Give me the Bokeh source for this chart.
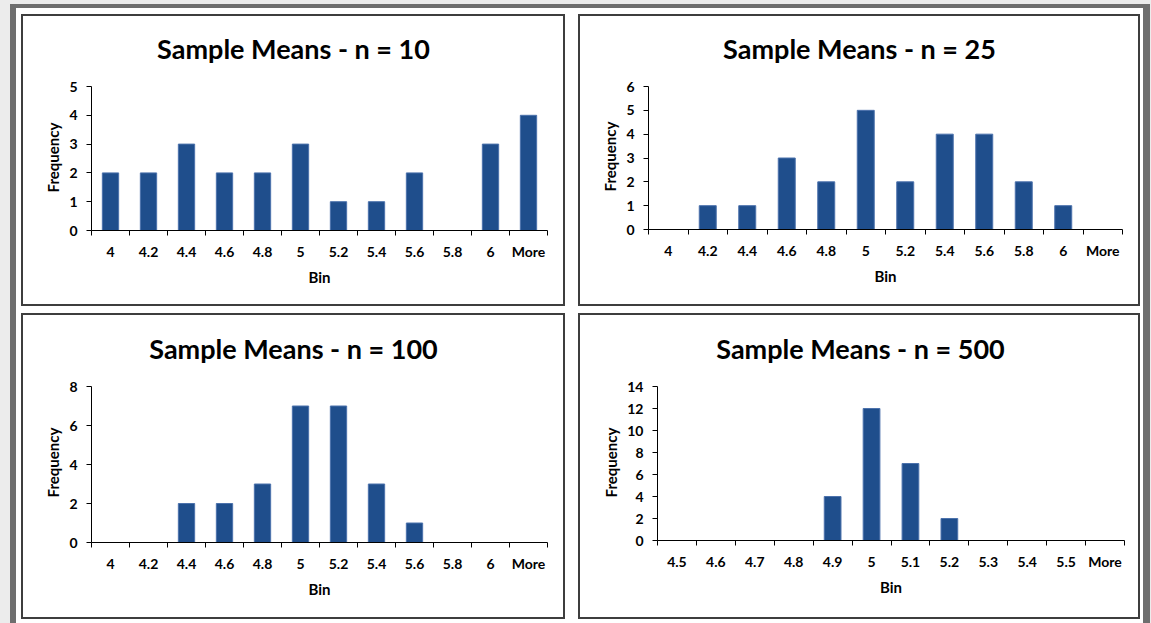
from bokeh.plotting import figure
from bokeh.models import Range1d, FixedTicker, Spacer, ColumnDataSource, Label, Title
from bokeh.layouts import row, column
from bokeh.embed import file_html
from bokeh.resources import INLINE

# ---- data ----
bins_small = ["4", "4.2", "4.4", "4.6", "4.8", "5", "5.2", "5.4", "5.6", "5.8", "6", "More"]
bins_large = ["4.5", "4.6", "4.7", "4.8", "4.9", "5", "5.1", "5.2", "5.3", "5.4", "5.5", "More"]
freq_n10 = [2, 2, 3, 2, 2, 3, 1, 1, 2, 0, 3, 4]
freq_n25 = [0, 1, 1, 3, 2, 5, 2, 4, 4, 2, 1, 0]
freq_n100 = [0, 0, 2, 2, 3, 7, 7, 3, 1, 0, 0, 0]
freq_n500 = [0, 0, 0, 0, 4, 12, 7, 2, 0, 0, 0, 0]
titles = ["Sample Means - n = 10", "Sample Means - n = 25",
          "Sample Means - n = 100", "Sample Means - n = 500"]
y_max = [5, 6, 8, 14]
y_step = [1, 1, 2, 2]
x_title = "Bin"
y_title = "Frequency"

FONT = "Lato"
BAR_FILL = "#1F4E8C"
BAR_LINE = "#4C72AC"
LIGHT = "#ececec"
BAND = "#6e6e6e"
PANEL_BORDER = "#3e3e3e"


def sp(w, h, color):
    return Spacer(width=w, height=h, styles={"background-color": color})


def make_panel(title, bins, freqs, ymax, ystep, w, h, mbl, mbr, top_gap, mbb,
               title_cx, ylab_offset):
    n = len(bins)
    centers = [i + 0.5 for i in range(n)]
    src = ColumnDataSource(dict(x=centers, top=freqs, label=bins))
    # the frame reaches the top of the canvas; the value axis itself stops at ymax
    frame_h = h - mbb
    data_h = h - top_gap - mbb
    y_end = ymax * frame_h / data_h
    p = figure(width=w, height=h, output_backend="svg", toolbar_location=None,
               x_range=Range1d(0, n), y_range=Range1d(0, y_end),
               min_border_left=mbl, min_border_right=mbr,
               min_border_top=0, min_border_bottom=mbb)
    p.vbar(x="x", top="top", bottom=0, width=0.43, source=src,
           fill_color=BAR_FILL, line_color=BAR_LINE, line_width=1)
    p.xgrid.visible = False
    p.ygrid.visible = False
    p.outline_line_color = None
    p.background_fill_color = "white"
    p.border_fill_color = "white"

    p.add_layout(Label(x=title_cx, y=data_h + 38, x_units="screen", y_units="screen",
                       text=title, text_align="center", text_baseline="middle",
                       text_font=FONT, text_font_size="27px", text_font_style="bold",
                       text_color="black"))

    xa = p.xaxis[0]
    overrides = {}
    for c, b in zip(centers, bins):
        overrides[c] = b
        overrides[str(c)] = b
    xa.ticker = FixedTicker(ticks=centers, minor_ticks=list(range(n + 1)))
    xa.major_label_overrides = overrides
    xa.major_tick_line_color = None
    xa.major_tick_out = 0
    xa.major_tick_in = 0
    xa.minor_tick_line_color = "black"
    xa.minor_tick_out = 5
    xa.minor_tick_in = 0
    xa.axis_line_color = "black"
    xa.major_label_text_font = FONT
    xa.major_label_text_font_size = "14px"
    xa.major_label_text_font_style = "bold"
    xa.major_label_text_color = "black"
    xa.major_label_standoff = 7
    xa.axis_label = x_title
    xa.axis_label_text_font = FONT
    xa.axis_label_text_font_size = "15px"
    xa.axis_label_text_font_style = "bold"
    xa.axis_label_text_color = "black"
    xa.axis_label_standoff = 5

    ya = p.yaxis[0]
    ya.bounds = (0, ymax)
    ya.ticker = FixedTicker(ticks=list(range(0, ymax + 1, ystep)))
    ya.minor_tick_line_color = None
    ya.major_tick_out = 5
    ya.major_tick_in = 0
    ya.major_tick_line_color = "black"
    ya.axis_line_color = "black"
    ya.major_label_text_font = FONT
    ya.major_label_text_font_size = "14px"
    ya.major_label_text_font_style = "bold"
    ya.major_label_text_color = "black"
    ya.major_label_standoff = 9

    # value-axis title, centred on the 0..ymax span rather than on the whole frame
    p.add_layout(Title(text=y_title, align="left", offset=ylab_offset,
                       vertical_align="middle", standoff=7,
                       text_font=FONT, text_font_size="15px", text_font_style="bold",
                       text_color="black"), "left")
    return p


def boxed(p, w, h):
    return row(
        sp(2, h, PANEL_BORDER),
        column(sp(w - 4, 2, PANEL_BORDER), p, sp(w - 4, 2, PANEL_BORDER)),
        sp(2, h, PANEL_BORDER),
    )


p1 = make_panel(titles[0], bins_small, freq_n10, y_max[0], y_step[0],
                540, 288, 68, 16, 70, 74, 202, 38)
p2 = make_panel(titles[1], bins_small, freq_n25, y_max[1], y_step[1],
                558, 288, 68, 16, 70, 75, 211, 38)
p3 = make_panel(titles[2], bins_small, freq_n100, y_max[2], y_step[2],
                540, 302, 68, 16, 71, 75, 202, 45)
p4 = make_panel(titles[3], bins_large, freq_n500, y_max[3], y_step[3],
                558, 302, 77, 14, 71, 77, 203, 43)

W = "white"
white_col = column(
    sp(1127, 4, BAND),
    sp(1127, 6, W),
    row(sp(5, 292, W), boxed(p1, 544, 292), sp(13, 292, W), boxed(p2, 562, 292), sp(3, 292, W)),
    sp(1127, 7, W),
    row(sp(5, 306, W), boxed(p3, 544, 306), sp(13, 306, W), boxed(p4, 562, 306), sp(3, 306, W)),
    sp(1127, 4, W),
)

root = column(
    sp(1151, 4, LIGHT),
    row(sp(10, 619, LIGHT), sp(6, 619, BAND), white_col, sp(7, 619, BAND), sp(1, 619, LIGHT)),
)

open("out.html", "w").write(file_html(root, INLINE))
